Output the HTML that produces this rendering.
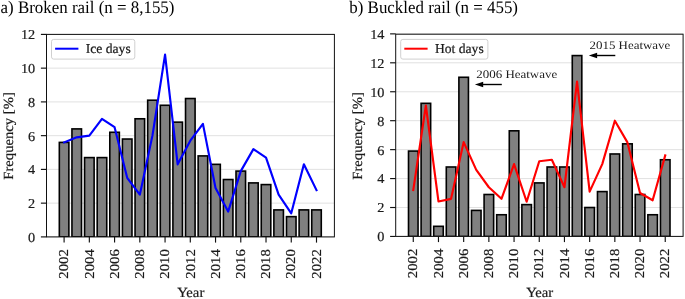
<!DOCTYPE html>
<html><head><meta charset="utf-8"><title>Rail defects</title>
<style>
html,body{margin:0;padding:0;background:#fff;}
body{width:685px;height:299px;overflow:hidden;}
svg{display:block;will-change:transform;text-rendering:geometricPrecision;font-family:"Liberation Serif",serif;fill:#1a1a1a;}
.d{stroke:#1a1a1a;stroke-width:0.2px;}
</style></head><body>
<svg width="685" height="299" viewBox="0 0 685 299">
<rect x="46.5" y="34.4" width="287.9" height="202.5" fill="#fff"/>
<line x1="46.5" x2="334.4" y1="236.9" y2="236.9" stroke="#dedede" stroke-width="0.9"/>
<line x1="46.5" x2="334.4" y1="203.15" y2="203.15" stroke="#dedede" stroke-width="0.9"/>
<line x1="46.5" x2="334.4" y1="169.4" y2="169.4" stroke="#dedede" stroke-width="0.9"/>
<line x1="46.5" x2="334.4" y1="135.65" y2="135.65" stroke="#dedede" stroke-width="0.9"/>
<line x1="46.5" x2="334.4" y1="101.9" y2="101.9" stroke="#dedede" stroke-width="0.9"/>
<line x1="46.5" x2="334.4" y1="68.15" y2="68.15" stroke="#dedede" stroke-width="0.9"/>
<line x1="46.5" x2="334.4" y1="34.4" y2="34.4" stroke="#dedede" stroke-width="0.9"/>
<clipPath id="cI"><rect x="46.5" y="34.4" width="287.9" height="202.5"/></clipPath>
<g clip-path="url(#cI)">
<rect x="59.33" y="142.4" width="9.55" height="94.5" fill="#808080" stroke="#000" stroke-width="1.6"/>
<rect x="71.95" y="128.9" width="9.55" height="108" fill="#808080" stroke="#000" stroke-width="1.6"/>
<rect x="84.57" y="157.59" width="9.55" height="79.31" fill="#808080" stroke="#000" stroke-width="1.6"/>
<rect x="97.19" y="157.59" width="9.55" height="79.31" fill="#808080" stroke="#000" stroke-width="1.6"/>
<rect x="109.81" y="132.28" width="9.55" height="104.62" fill="#808080" stroke="#000" stroke-width="1.6"/>
<rect x="122.43" y="139.03" width="9.55" height="97.88" fill="#808080" stroke="#000" stroke-width="1.6"/>
<rect x="135.05" y="118.78" width="9.55" height="118.12" fill="#808080" stroke="#000" stroke-width="1.6"/>
<rect x="147.67" y="100.21" width="9.55" height="136.69" fill="#808080" stroke="#000" stroke-width="1.6"/>
<rect x="160.29" y="105.28" width="9.55" height="131.62" fill="#808080" stroke="#000" stroke-width="1.6"/>
<rect x="172.91" y="122.15" width="9.55" height="114.75" fill="#808080" stroke="#000" stroke-width="1.6"/>
<rect x="185.53" y="98.53" width="9.55" height="138.38" fill="#808080" stroke="#000" stroke-width="1.6"/>
<rect x="198.15" y="155.9" width="9.55" height="81" fill="#808080" stroke="#000" stroke-width="1.6"/>
<rect x="210.77" y="164.34" width="9.55" height="72.56" fill="#808080" stroke="#000" stroke-width="1.6"/>
<rect x="223.39" y="179.53" width="9.55" height="57.38" fill="#808080" stroke="#000" stroke-width="1.6"/>
<rect x="236.01" y="171.09" width="9.55" height="65.81" fill="#808080" stroke="#000" stroke-width="1.6"/>
<rect x="248.63" y="182.9" width="9.55" height="54" fill="#808080" stroke="#000" stroke-width="1.6"/>
<rect x="261.25" y="184.59" width="9.55" height="52.31" fill="#808080" stroke="#000" stroke-width="1.6"/>
<rect x="273.87" y="209.9" width="9.55" height="27" fill="#808080" stroke="#000" stroke-width="1.6"/>
<rect x="286.49" y="216.65" width="9.55" height="20.25" fill="#808080" stroke="#000" stroke-width="1.6"/>
<rect x="299.11" y="209.9" width="9.55" height="27" fill="#808080" stroke="#000" stroke-width="1.6"/>
<rect x="311.73" y="209.9" width="9.55" height="27" fill="#808080" stroke="#000" stroke-width="1.6"/>
<polyline points="64.1,142.4 76.72,137.34 89.34,135.65 101.96,118.78 114.58,127.21 127.2,177.84 139.82,194.71 152.44,135.65 165.06,54.65 177.68,164.34 190.3,140.71 202.92,123.84 215.54,187.96 228.16,211.59 240.78,171.09 253.4,149.15 266.02,157.59 278.64,194.71 291.26,213.28 303.88,164.34 316.5,190.16" fill="none" stroke="#0000ff" stroke-width="2.15" stroke-linejoin="round" stroke-linecap="square"/>
</g>
<rect x="46.5" y="34.4" width="287.9" height="202.5" fill="none" stroke="#111" stroke-width="1.0"/>
<line x1="40.9" x2="46.5" y1="236.9" y2="236.9" stroke="#111" stroke-width="1.15"/>
<text class="d" transform="translate(35.2,241.8) scale(1.05,1.0)" text-anchor="end" font-size="13.6">0</text>
<line x1="40.9" x2="46.5" y1="203.15" y2="203.15" stroke="#111" stroke-width="1.15"/>
<text class="d" transform="translate(35.2,208.05) scale(1.05,1.0)" text-anchor="end" font-size="13.6">2</text>
<line x1="40.9" x2="46.5" y1="169.4" y2="169.4" stroke="#111" stroke-width="1.15"/>
<text class="d" transform="translate(35.2,174.3) scale(1.05,1.0)" text-anchor="end" font-size="13.6">4</text>
<line x1="40.9" x2="46.5" y1="135.65" y2="135.65" stroke="#111" stroke-width="1.15"/>
<text class="d" transform="translate(35.2,140.55) scale(1.05,1.0)" text-anchor="end" font-size="13.6">6</text>
<line x1="40.9" x2="46.5" y1="101.9" y2="101.9" stroke="#111" stroke-width="1.15"/>
<text class="d" transform="translate(35.2,106.8) scale(1.05,1.0)" text-anchor="end" font-size="13.6">8</text>
<line x1="40.9" x2="46.5" y1="68.15" y2="68.15" stroke="#111" stroke-width="1.15"/>
<text class="d" transform="translate(35.2,73.05) scale(1.05,1.0)" text-anchor="end" font-size="13.6">10</text>
<line x1="40.9" x2="46.5" y1="34.4" y2="34.4" stroke="#111" stroke-width="1.15"/>
<text class="d" transform="translate(35.2,39.3) scale(1.05,1.0)" text-anchor="end" font-size="13.6">12</text>
<line x1="64.1" x2="64.1" y1="236.9" y2="242.6" stroke="#111" stroke-width="1.15"/>
<text class="d" transform="translate(68.3,249.15) rotate(-90) scale(1.085,1.0)" text-anchor="end" font-size="13.6">2002</text>
<line x1="89.34" x2="89.34" y1="236.9" y2="242.6" stroke="#111" stroke-width="1.15"/>
<text class="d" transform="translate(93.54,249.15) rotate(-90) scale(1.085,1.0)" text-anchor="end" font-size="13.6">2004</text>
<line x1="114.58" x2="114.58" y1="236.9" y2="242.6" stroke="#111" stroke-width="1.15"/>
<text class="d" transform="translate(118.78,249.15) rotate(-90) scale(1.085,1.0)" text-anchor="end" font-size="13.6">2006</text>
<line x1="139.82" x2="139.82" y1="236.9" y2="242.6" stroke="#111" stroke-width="1.15"/>
<text class="d" transform="translate(144.02,249.15) rotate(-90) scale(1.085,1.0)" text-anchor="end" font-size="13.6">2008</text>
<line x1="165.06" x2="165.06" y1="236.9" y2="242.6" stroke="#111" stroke-width="1.15"/>
<text class="d" transform="translate(169.26,249.15) rotate(-90) scale(1.085,1.0)" text-anchor="end" font-size="13.6">2010</text>
<line x1="190.3" x2="190.3" y1="236.9" y2="242.6" stroke="#111" stroke-width="1.15"/>
<text class="d" transform="translate(194.5,249.15) rotate(-90) scale(1.085,1.0)" text-anchor="end" font-size="13.6">2012</text>
<line x1="215.54" x2="215.54" y1="236.9" y2="242.6" stroke="#111" stroke-width="1.15"/>
<text class="d" transform="translate(219.74,249.15) rotate(-90) scale(1.085,1.0)" text-anchor="end" font-size="13.6">2014</text>
<line x1="240.78" x2="240.78" y1="236.9" y2="242.6" stroke="#111" stroke-width="1.15"/>
<text class="d" transform="translate(244.98,249.15) rotate(-90) scale(1.085,1.0)" text-anchor="end" font-size="13.6">2016</text>
<line x1="266.02" x2="266.02" y1="236.9" y2="242.6" stroke="#111" stroke-width="1.15"/>
<text class="d" transform="translate(270.22,249.15) rotate(-90) scale(1.085,1.0)" text-anchor="end" font-size="13.6">2018</text>
<line x1="291.26" x2="291.26" y1="236.9" y2="242.6" stroke="#111" stroke-width="1.15"/>
<text class="d" transform="translate(295.46,249.15) rotate(-90) scale(1.085,1.0)" text-anchor="end" font-size="13.6">2020</text>
<line x1="316.5" x2="316.5" y1="236.9" y2="242.6" stroke="#111" stroke-width="1.15"/>
<text class="d" transform="translate(320.7,249.15) rotate(-90) scale(1.085,1.0)" text-anchor="end" font-size="13.6">2022</text>
<text class="d" transform="translate(190.75,297.25) scale(1.05,1.0)" text-anchor="middle" font-size="14.0">Year</text>
<text class="d" transform="translate(12.8,135.92) rotate(-90) scale(1.055,1.0)" text-anchor="middle" font-size="13.9">Frequency [%]</text>
<rect x="51.5" y="39.4" width="83.3" height="19.7" rx="2.2" fill="#fff" fill-opacity="0.8" stroke="#d0d0d0" stroke-width="1"/>
<line x1="55.1" x2="78.4" y1="48.7" y2="48.7" stroke="#0000ff" stroke-width="2"/>
<text class="d" transform="translate(85.8,53.2)" text-anchor="start" font-size="13.6">Ice days</text>
<rect x="395.7" y="34.2" width="287.4" height="202.2" fill="#fff"/>
<line x1="395.7" x2="683.1" y1="236.45" y2="236.45" stroke="#dedede" stroke-width="0.9"/>
<line x1="395.7" x2="683.1" y1="207.51" y2="207.51" stroke="#dedede" stroke-width="0.9"/>
<line x1="395.7" x2="683.1" y1="178.57" y2="178.57" stroke="#dedede" stroke-width="0.9"/>
<line x1="395.7" x2="683.1" y1="149.63" y2="149.63" stroke="#dedede" stroke-width="0.9"/>
<line x1="395.7" x2="683.1" y1="120.69" y2="120.69" stroke="#dedede" stroke-width="0.9"/>
<line x1="395.7" x2="683.1" y1="91.75" y2="91.75" stroke="#dedede" stroke-width="0.9"/>
<line x1="395.7" x2="683.1" y1="62.81" y2="62.81" stroke="#dedede" stroke-width="0.9"/>
<line x1="395.7" x2="683.1" y1="33.87" y2="33.87" stroke="#dedede" stroke-width="0.9"/>
<clipPath id="cH"><rect x="395.7" y="34.2" width="287.4" height="202.2"/></clipPath>
<g clip-path="url(#cH)">
<rect x="408.5" y="151.08" width="9.55" height="85.37" fill="#808080" stroke="#000" stroke-width="1.6"/>
<rect x="421.1" y="103.33" width="9.55" height="133.12" fill="#808080" stroke="#000" stroke-width="1.6"/>
<rect x="433.7" y="226.32" width="9.55" height="10.13" fill="#808080" stroke="#000" stroke-width="1.6"/>
<rect x="446.29" y="166.99" width="9.55" height="69.46" fill="#808080" stroke="#000" stroke-width="1.6"/>
<rect x="458.89" y="77.28" width="9.55" height="159.17" fill="#808080" stroke="#000" stroke-width="1.6"/>
<rect x="471.49" y="210.4" width="9.55" height="26.05" fill="#808080" stroke="#000" stroke-width="1.6"/>
<rect x="484.09" y="194.49" width="9.55" height="41.96" fill="#808080" stroke="#000" stroke-width="1.6"/>
<rect x="496.69" y="214.75" width="9.55" height="21.71" fill="#808080" stroke="#000" stroke-width="1.6"/>
<rect x="509.28" y="130.82" width="9.55" height="105.63" fill="#808080" stroke="#000" stroke-width="1.6"/>
<rect x="521.88" y="204.62" width="9.55" height="31.83" fill="#808080" stroke="#000" stroke-width="1.6"/>
<rect x="534.48" y="182.91" width="9.55" height="53.54" fill="#808080" stroke="#000" stroke-width="1.6"/>
<rect x="547.08" y="166.99" width="9.55" height="69.46" fill="#808080" stroke="#000" stroke-width="1.6"/>
<rect x="559.68" y="166.99" width="9.55" height="69.46" fill="#808080" stroke="#000" stroke-width="1.6"/>
<rect x="572.27" y="55.58" width="9.55" height="180.88" fill="#808080" stroke="#000" stroke-width="1.6"/>
<rect x="584.87" y="207.51" width="9.55" height="28.94" fill="#808080" stroke="#000" stroke-width="1.6"/>
<rect x="597.47" y="191.59" width="9.55" height="44.86" fill="#808080" stroke="#000" stroke-width="1.6"/>
<rect x="610.07" y="153.97" width="9.55" height="82.48" fill="#808080" stroke="#000" stroke-width="1.6"/>
<rect x="622.67" y="143.84" width="9.55" height="92.61" fill="#808080" stroke="#000" stroke-width="1.6"/>
<rect x="635.26" y="194.49" width="9.55" height="41.96" fill="#808080" stroke="#000" stroke-width="1.6"/>
<rect x="647.86" y="214.75" width="9.55" height="21.71" fill="#808080" stroke="#000" stroke-width="1.6"/>
<rect x="660.46" y="159.76" width="9.55" height="76.69" fill="#808080" stroke="#000" stroke-width="1.6"/>
<polyline points="413.27,190.15 425.87,105.5 438.47,201.43 451.07,198.83 463.67,142.11 476.26,169.89 488.86,187.25 501.46,198.83 514.06,164.1 526.66,201.72 539.26,161.21 551.85,159.76 564.45,187.25 577.05,81.62 589.65,191.59 602.25,164.1 614.84,120.69 627.44,142.4 640.04,193.04 652.64,200.28 665.24,155.42" fill="none" stroke="#ff0000" stroke-width="2.15" stroke-linejoin="round" stroke-linecap="square"/>
</g>
<rect x="395.7" y="34.2" width="287.4" height="202.2" fill="none" stroke="#111" stroke-width="1.0"/>
<line x1="390.1" x2="395.7" y1="236.45" y2="236.45" stroke="#111" stroke-width="1.15"/>
<text class="d" transform="translate(384.4,241.35) scale(1.05,1.0)" text-anchor="end" font-size="13.6">0</text>
<line x1="390.1" x2="395.7" y1="207.51" y2="207.51" stroke="#111" stroke-width="1.15"/>
<text class="d" transform="translate(384.4,212.41) scale(1.05,1.0)" text-anchor="end" font-size="13.6">2</text>
<line x1="390.1" x2="395.7" y1="178.57" y2="178.57" stroke="#111" stroke-width="1.15"/>
<text class="d" transform="translate(384.4,183.47) scale(1.05,1.0)" text-anchor="end" font-size="13.6">4</text>
<line x1="390.1" x2="395.7" y1="149.63" y2="149.63" stroke="#111" stroke-width="1.15"/>
<text class="d" transform="translate(384.4,154.53) scale(1.05,1.0)" text-anchor="end" font-size="13.6">6</text>
<line x1="390.1" x2="395.7" y1="120.69" y2="120.69" stroke="#111" stroke-width="1.15"/>
<text class="d" transform="translate(384.4,125.59) scale(1.05,1.0)" text-anchor="end" font-size="13.6">8</text>
<line x1="390.1" x2="395.7" y1="91.75" y2="91.75" stroke="#111" stroke-width="1.15"/>
<text class="d" transform="translate(384.4,96.65) scale(1.05,1.0)" text-anchor="end" font-size="13.6">10</text>
<line x1="390.1" x2="395.7" y1="62.81" y2="62.81" stroke="#111" stroke-width="1.15"/>
<text class="d" transform="translate(384.4,67.71) scale(1.05,1.0)" text-anchor="end" font-size="13.6">12</text>
<line x1="390.1" x2="395.7" y1="33.87" y2="33.87" stroke="#111" stroke-width="1.15"/>
<text class="d" transform="translate(384.4,38.77) scale(1.05,1.0)" text-anchor="end" font-size="13.6">14</text>
<line x1="413.27" x2="413.27" y1="236.4" y2="242.1" stroke="#111" stroke-width="1.15"/>
<text class="d" transform="translate(417.47,248.65) rotate(-90) scale(1.085,1.0)" text-anchor="end" font-size="13.6">2002</text>
<line x1="438.47" x2="438.47" y1="236.4" y2="242.1" stroke="#111" stroke-width="1.15"/>
<text class="d" transform="translate(442.67,248.65) rotate(-90) scale(1.085,1.0)" text-anchor="end" font-size="13.6">2004</text>
<line x1="463.67" x2="463.67" y1="236.4" y2="242.1" stroke="#111" stroke-width="1.15"/>
<text class="d" transform="translate(467.87,248.65) rotate(-90) scale(1.085,1.0)" text-anchor="end" font-size="13.6">2006</text>
<line x1="488.86" x2="488.86" y1="236.4" y2="242.1" stroke="#111" stroke-width="1.15"/>
<text class="d" transform="translate(493.06,248.65) rotate(-90) scale(1.085,1.0)" text-anchor="end" font-size="13.6">2008</text>
<line x1="514.06" x2="514.06" y1="236.4" y2="242.1" stroke="#111" stroke-width="1.15"/>
<text class="d" transform="translate(518.26,248.65) rotate(-90) scale(1.085,1.0)" text-anchor="end" font-size="13.6">2010</text>
<line x1="539.26" x2="539.26" y1="236.4" y2="242.1" stroke="#111" stroke-width="1.15"/>
<text class="d" transform="translate(543.46,248.65) rotate(-90) scale(1.085,1.0)" text-anchor="end" font-size="13.6">2012</text>
<line x1="564.45" x2="564.45" y1="236.4" y2="242.1" stroke="#111" stroke-width="1.15"/>
<text class="d" transform="translate(568.65,248.65) rotate(-90) scale(1.085,1.0)" text-anchor="end" font-size="13.6">2014</text>
<line x1="589.65" x2="589.65" y1="236.4" y2="242.1" stroke="#111" stroke-width="1.15"/>
<text class="d" transform="translate(593.85,248.65) rotate(-90) scale(1.085,1.0)" text-anchor="end" font-size="13.6">2016</text>
<line x1="614.84" x2="614.84" y1="236.4" y2="242.1" stroke="#111" stroke-width="1.15"/>
<text class="d" transform="translate(619.04,248.65) rotate(-90) scale(1.085,1.0)" text-anchor="end" font-size="13.6">2018</text>
<line x1="640.04" x2="640.04" y1="236.4" y2="242.1" stroke="#111" stroke-width="1.15"/>
<text class="d" transform="translate(644.24,248.65) rotate(-90) scale(1.085,1.0)" text-anchor="end" font-size="13.6">2020</text>
<line x1="665.24" x2="665.24" y1="236.4" y2="242.1" stroke="#111" stroke-width="1.15"/>
<text class="d" transform="translate(669.44,248.65) rotate(-90) scale(1.085,1.0)" text-anchor="end" font-size="13.6">2022</text>
<text class="d" transform="translate(539.7,297.25) scale(1.05,1.0)" text-anchor="middle" font-size="14.0">Year</text>
<text class="d" transform="translate(362,135.92) rotate(-90) scale(1.055,1.0)" text-anchor="middle" font-size="13.9">Frequency [%]</text>
<rect x="400.7" y="39.4" width="87.2" height="19.7" rx="2.2" fill="#fff" fill-opacity="0.8" stroke="#d0d0d0" stroke-width="1"/>
<line x1="404.3" x2="427.6" y1="48.7" y2="48.7" stroke="#ff0000" stroke-width="2"/>
<text class="d" transform="translate(435,53.2)" text-anchor="start" font-size="13.6">Hot days</text>
<text id="ta" fill="#000" transform="translate(0.6,13.3) scale(0.966,1)" text-anchor="start" font-size="17.5">a) Broken rail (n = 8,155)</text>
<text id="tb" fill="#000" transform="translate(349.3,13.3) scale(0.966,1)" text-anchor="start" font-size="17.5">b) Buckled rail (n = 455)</text>
<line x1="501.8" x2="478.9" y1="84.5" y2="84.5" stroke="#000" stroke-width="1.4"/><path d="M474.9,84.5 L483.2,81.8 L483.2,87.2 Z" fill="#000"/>
<text id="an1" fill="#1a1a1a" transform="translate(476.3,77.6) scale(1.125,1)" text-anchor="start" font-size="11.5">2006 Heatwave</text>
<line x1="615.3" x2="592.8" y1="55.5" y2="55.5" stroke="#000" stroke-width="1.4"/><path d="M588.8,55.5 L597.1,52.8 L597.1,58.2 Z" fill="#000"/>
<text id="an2" fill="#1a1a1a" transform="translate(589.5,48.9) scale(1.125,1)" text-anchor="start" font-size="11.5">2015 Heatwave</text>
</svg>
</body></html>
